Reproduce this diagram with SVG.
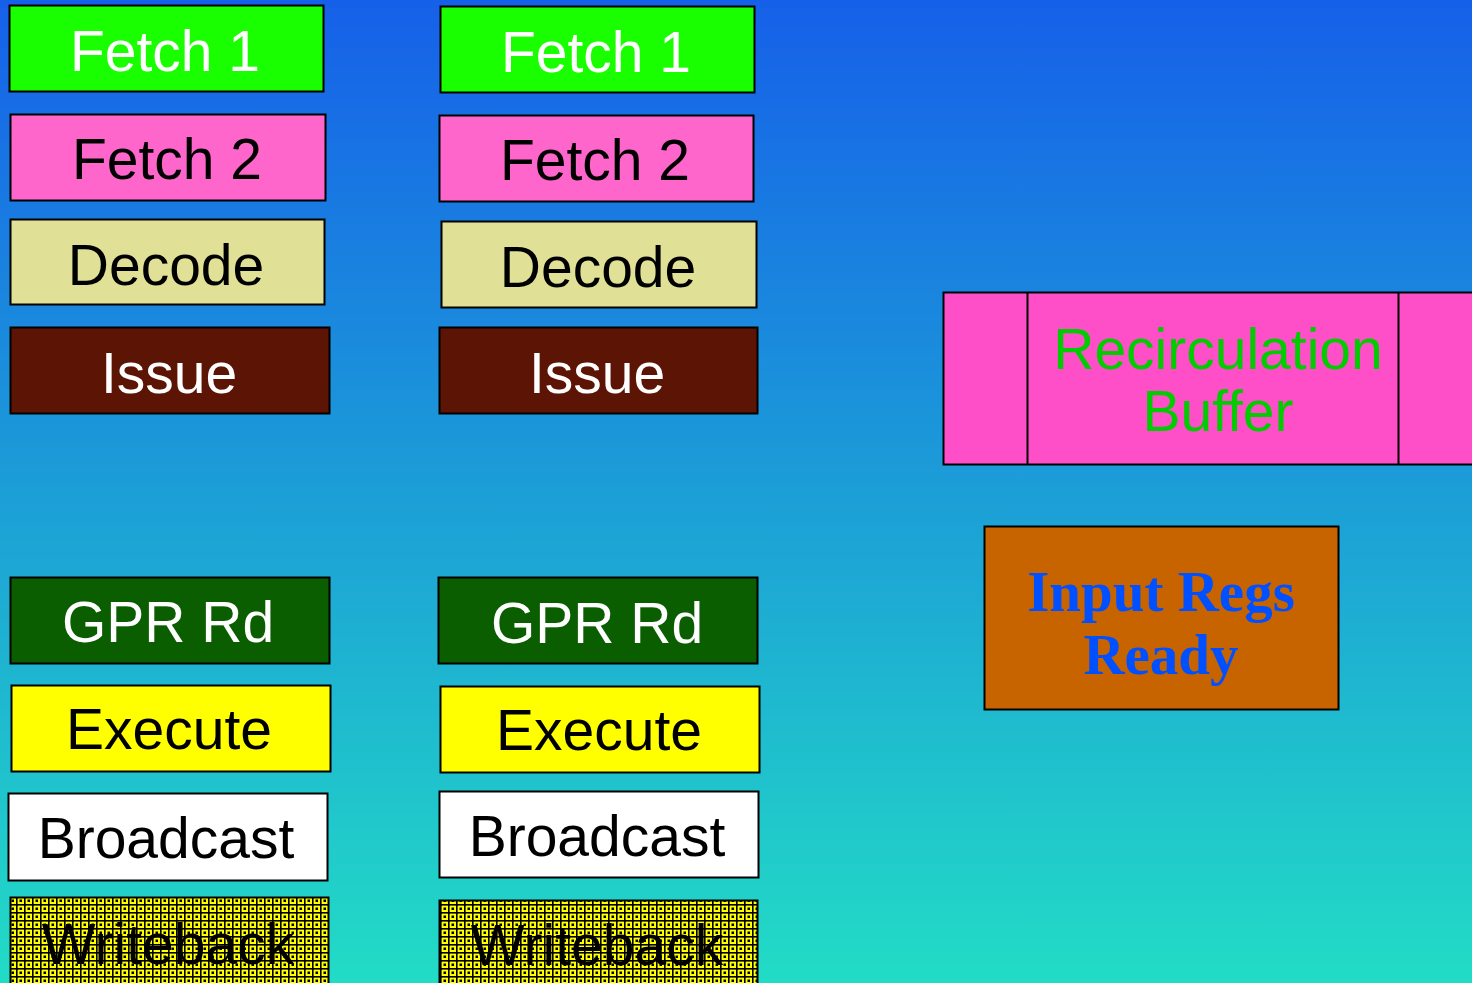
<svg xmlns="http://www.w3.org/2000/svg" width="1472" height="983" viewBox="0 0 1472 983">
  <defs>
    <linearGradient id="bg" x1="0" y1="0" x2="0" y2="1">
      <stop offset="0" stop-color="#1660e9"/>
      <stop offset="1" stop-color="#22dcc5"/>
    </linearGradient>
    <!-- yellow weave fill used for the writeback stage -->
    <pattern id="weave" x="0" y="0" width="8" height="8" patternUnits="userSpaceOnUse">
      <rect width="8" height="8" fill="#ffff00"/>
      <rect x="0" y="0" width="8" height="1.6" fill="#000"/>
      <rect x="0" y="0" width="1.6" height="8" fill="#000"/>
      <rect x="3.5" y="3.5" width="2.5" height="2.5" fill="#000"/>
    </pattern>
    <style>
      .box { stroke: #000; stroke-width: 2; }
      .lbl { font-family: "Liberation Sans", Arial, sans-serif; font-size: 57px; text-anchor: middle; }
      .w { fill: #ffffff; }
      .k { fill: #000000; }
      .f1 { fill: #1aff00; }
      .f2 { fill: #ff66cc; }
      .dec { fill: #e0e096; }
      .iss { fill: #5c1505; }
      .gpr { fill: #0a5e00; }
      .exe { fill: #ffff00; }
      .bc { fill: #ffffff; }
      .wb { fill: url(#weave); }
    </style>
  </defs>

  <rect width="1472" height="983" fill="url(#bg)"/>

  <!-- left pipeline -->
  <g id="l-fetch1"><rect class="box f1" x="9.5" y="5.5" width="314" height="86"/><text class="lbl w" x="165" y="71">Fetch 1</text></g>
  <g id="l-fetch2"><rect class="box f2" x="10.5" y="114.5" width="315" height="86"/><text class="lbl k" x="167" y="179">Fetch 2</text></g>
  <g id="l-decode"><rect class="box dec" x="10.5" y="219.5" width="314" height="85"/><text class="lbl k" x="166" y="285">Decode</text></g>
  <g id="l-issue"><rect class="box iss" x="10.5" y="327.5" width="319" height="86"/><text class="lbl w" x="169" y="393">Issue</text></g>
  <g id="l-gpr"><rect class="box gpr" x="10.5" y="577.5" width="319" height="86"/><text class="lbl w" x="168" y="642">GPR Rd</text></g>
  <g id="l-exec"><rect class="box exe" x="11.5" y="685.5" width="319" height="86"/><text class="lbl k" x="169" y="749">Execute</text></g>
  <g id="l-bcast"><rect class="box bc" x="8.5" y="793.5" width="319" height="87"/><text class="lbl k" x="166" y="858">Broadcast</text></g>
  <g id="l-wb"><rect class="box wb" x="10.5" y="897.5" width="318" height="95"/><text class="lbl k" x="168" y="964">Writeback</text></g>

  <!-- right pipeline -->
  <g id="r-fetch1"><rect class="box f1" x="440.5" y="6.5" width="314" height="86"/><text class="lbl w" x="596" y="72">Fetch 1</text></g>
  <g id="r-fetch2"><rect class="box f2" x="439.5" y="115.5" width="314" height="86"/><text class="lbl k" x="595" y="180">Fetch 2</text></g>
  <g id="r-decode"><rect class="box dec" x="441.5" y="221.5" width="315" height="86"/><text class="lbl k" x="598" y="287">Decode</text></g>
  <g id="r-issue"><rect class="box iss" x="439.5" y="327.5" width="318" height="86"/><text class="lbl w" x="597" y="393">Issue</text></g>
  <g id="r-gpr"><rect class="box gpr" x="438.5" y="577.5" width="319" height="86"/><text class="lbl w" x="597" y="643">GPR Rd</text></g>
  <g id="r-exec"><rect class="box exe" x="440.5" y="686.5" width="319" height="86"/><text class="lbl k" x="599" y="750">Execute</text></g>
  <g id="r-bcast"><rect class="box bc" x="439.5" y="791.5" width="319" height="86"/><text class="lbl k" x="597" y="856">Broadcast</text></g>
  <g id="r-wb"><rect class="box wb" x="439.5" y="900.5" width="318" height="95"/><text class="lbl k" x="597" y="965">Writeback</text></g>

  <!-- recirculation buffer with slot dividers -->
  <g id="recirc">
    <rect class="box" x="943.5" y="292.5" width="540" height="172" fill="#ff4fc8"/>
    <line x1="1027.5" y1="292" x2="1027.5" y2="465" stroke="#000" stroke-width="2"/>
    <line x1="1398.5" y1="292" x2="1398.5" y2="465" stroke="#000" stroke-width="2"/>
    <text font-family="'Liberation Sans', Arial, sans-serif" font-size="57" fill="#00cc00" text-anchor="middle"><tspan x="1218" y="369">Recirculation</tspan><tspan x="1218" y="431">Buffer</tspan></text>
  </g>

  <!-- operand readiness check -->
  <g id="input-regs">
    <rect class="box" x="984.5" y="526.5" width="354" height="183" fill="#c86400"/>
    <text font-family="'Liberation Serif', 'Times New Roman', serif" font-weight="bold" font-size="57" fill="#0050ff" text-anchor="middle"><tspan x="1161" y="611">Input Regs</tspan><tspan x="1161" y="674">Ready</tspan></text>
  </g>

  <g id="connectors"/>
</svg>
